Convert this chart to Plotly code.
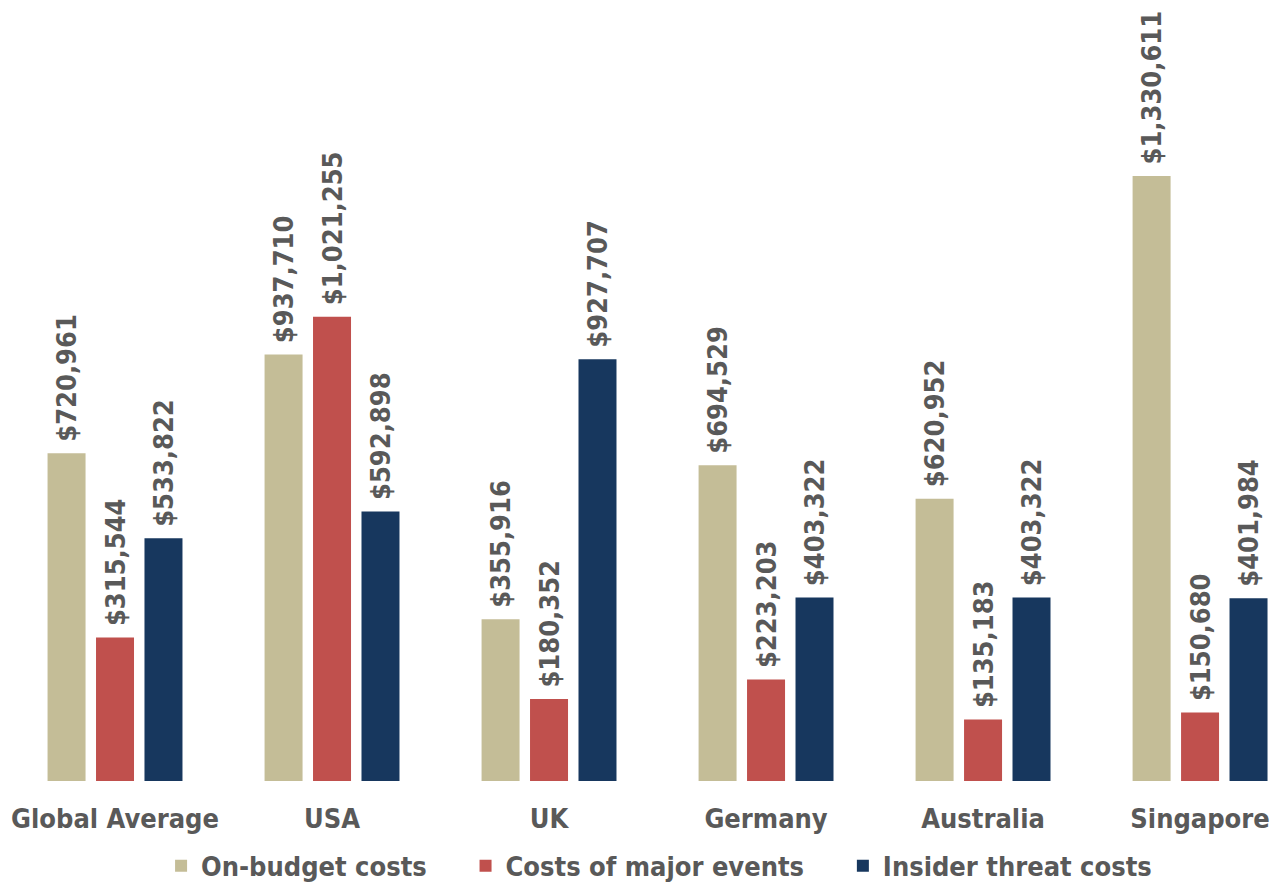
import plotly.graph_objects as go

categories = ["Global Average", "USA", "UK", "Germany", "Australia", "Singapore"]
on_budget = [720961, 937710, 355916, 694529, 620952, 1330611]
major_events = [315544, 1021255, 180352, 223203, 135183, 150680]
insider = [533822, 592898, 927707, 403322, 403322, 401984]

series_names = ["On-budget costs", "Costs of major events", "Insider threat costs"]
series_values = [on_budget, major_events, insider]
series_colors = ["#C4BD97", "#C0504D", "#17375E"]

FONT = "DejaVu Sans Condensed, DejaVu Sans, sans-serif"
GRAY = "#595959"
NB = "\u00a0"

fig = go.Figure()
for i, (name, vals, color) in enumerate(zip(series_names, series_values, series_colors)):
    legend_name = name + (NB * 4 if i < 2 else "")
    fig.add_trace(go.Bar(
        name=legend_name, x=categories, y=vals,
        marker=dict(color=color, line=dict(width=0)),
        text=[NB + "${:,}".format(v) for v in vals],
        textposition="outside", textangle=-90, cliponaxis=False,
        constraintext="none",
        textfont=dict(family=FONT, size=27, color=GRAY, weight="bold"),
    ))

fig.update_layout(
    width=1281, height=884,
    margin=dict(l=0, r=0, t=0, b=103, autoexpand=False),
    barmode="group", bargap=0.33, bargroupgap=0.216,
    plot_bgcolor="white", paper_bgcolor="white",
    showlegend=True,
    legend=dict(orientation="h", x=0.5145, xanchor="center", y=-0.109, yanchor="middle",
                font=dict(family=FONT, size=27, color=GRAY, weight="bold"),
                itemwidth=30, traceorder="normal"),
    xaxis=dict(range=[-0.530, 5.373], showgrid=False, zeroline=False, showline=False,
               ticks="", ticklabelstandoff=19,
               tickfont=dict(family=FONT, size=27, color=GRAY, weight="bold")),
    yaxis=dict(range=[0, 1717600], visible=False),
)

fig.write_html("out.html")
